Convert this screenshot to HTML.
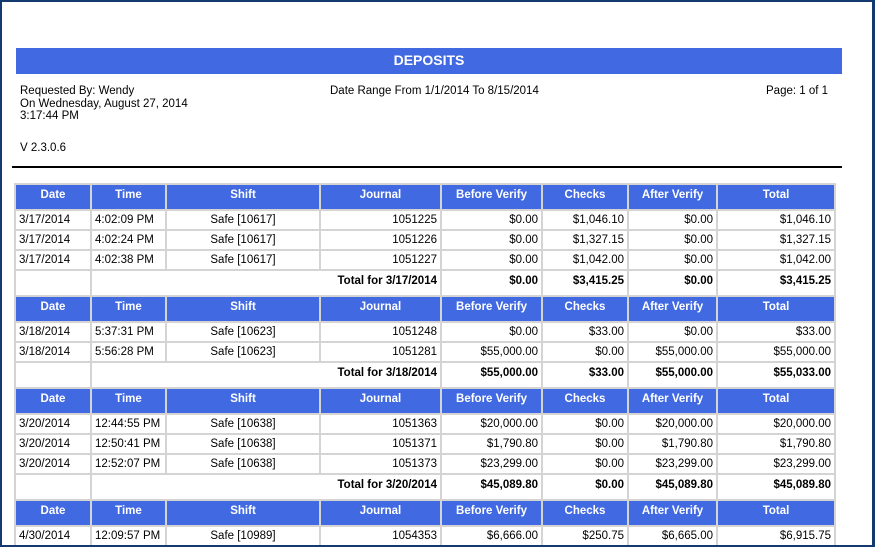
<!DOCTYPE html>
<html><head><style>
body{margin:0;width:875px;height:547px;overflow:hidden;background:#fff;font-family:"Liberation Sans",Arial,sans-serif;font-size:11.5px;color:#000;position:relative}
.frame{position:absolute;left:0;top:0;width:870px;height:543px;border-left:2px solid #14396e;border-top:2px solid #14396e;border-right:3px solid #14396e;border-bottom:2px solid #14396e;pointer-events:none;z-index:5}
.title{position:absolute;left:16px;top:48px;width:826px;height:26px;background:#4169e1;color:#fff;font-weight:bold;font-size:14px;text-align:center;line-height:25px}
.t{position:absolute;line-height:12.5px}
.rule{position:absolute;left:12px;top:166px;width:830px;height:2px;background:#000}
table{position:absolute;left:14px;top:183px;border-collapse:separate;border-spacing:2px;background:#d4d4d4;table-layout:fixed;width:822px}
td{background:#fff;padding:0 3px;height:18px;line-height:18px;white-space:nowrap;overflow:hidden;vertical-align:top;box-sizing:border-box}
tr.h td{background:#4169e1;color:#fff;font-weight:bold;text-align:center;height:24px;line-height:20px}
tr.tot td{height:24px;font-weight:bold;line-height:21px}
.r{text-align:right}.c{text-align:center}
</style></head><body>
<div class="frame"></div>
<div class="title">DEPOSITS</div>
<div class="t" style="left:20px;top:85px">Requested By: Wendy<br>On Wednesday, August 27, 2014<br>3:17:44 PM</div>
<div class="t" style="left:20px;top:142px">V 2.3.0.6</div>
<div class="t" style="left:330px;top:85px">Date Range From 1/1/2014 To 8/15/2014</div>
<div class="t" style="left:766px;top:85px">Page: 1 of 1</div>
<div class="rule"></div>
<table>
<colgroup><col style="width:74px"><col style="width:73px"><col style="width:152px"><col style="width:119px"><col style="width:99px"><col style="width:84px"><col style="width:87px"><col style="width:116px"></colgroup>
<tr class="h"><td>Date</td><td>Time</td><td>Shift</td><td>Journal</td><td>Before Verify</td><td>Checks</td><td>After Verify</td><td>Total</td></tr>
<tr><td>3/17/2014</td><td>4:02:09 PM</td><td class="c">Safe [10617]</td><td class="r">1051225</td><td class="r">$0.00</td><td class="r">$1,046.10</td><td class="r">$0.00</td><td class="r">$1,046.10</td></tr>
<tr><td>3/17/2014</td><td>4:02:24 PM</td><td class="c">Safe [10617]</td><td class="r">1051226</td><td class="r">$0.00</td><td class="r">$1,327.15</td><td class="r">$0.00</td><td class="r">$1,327.15</td></tr>
<tr><td>3/17/2014</td><td>4:02:38 PM</td><td class="c">Safe [10617]</td><td class="r">1051227</td><td class="r">$0.00</td><td class="r">$1,042.00</td><td class="r">$0.00</td><td class="r">$1,042.00</td></tr>
<tr class="tot"><td></td><td colspan="3" class="r">Total for 3/17/2014</td><td class="r">$0.00</td><td class="r">$3,415.25</td><td class="r">$0.00</td><td class="r">$3,415.25</td></tr>
<tr class="h"><td>Date</td><td>Time</td><td>Shift</td><td>Journal</td><td>Before Verify</td><td>Checks</td><td>After Verify</td><td>Total</td></tr>
<tr><td>3/18/2014</td><td>5:37:31 PM</td><td class="c">Safe [10623]</td><td class="r">1051248</td><td class="r">$0.00</td><td class="r">$33.00</td><td class="r">$0.00</td><td class="r">$33.00</td></tr>
<tr><td>3/18/2014</td><td>5:56:28 PM</td><td class="c">Safe [10623]</td><td class="r">1051281</td><td class="r">$55,000.00</td><td class="r">$0.00</td><td class="r">$55,000.00</td><td class="r">$55,000.00</td></tr>
<tr class="tot"><td></td><td colspan="3" class="r">Total for 3/18/2014</td><td class="r">$55,000.00</td><td class="r">$33.00</td><td class="r">$55,000.00</td><td class="r">$55,033.00</td></tr>
<tr class="h"><td>Date</td><td>Time</td><td>Shift</td><td>Journal</td><td>Before Verify</td><td>Checks</td><td>After Verify</td><td>Total</td></tr>
<tr><td>3/20/2014</td><td>12:44:55 PM</td><td class="c">Safe [10638]</td><td class="r">1051363</td><td class="r">$20,000.00</td><td class="r">$0.00</td><td class="r">$20,000.00</td><td class="r">$20,000.00</td></tr>
<tr><td>3/20/2014</td><td>12:50:41 PM</td><td class="c">Safe [10638]</td><td class="r">1051371</td><td class="r">$1,790.80</td><td class="r">$0.00</td><td class="r">$1,790.80</td><td class="r">$1,790.80</td></tr>
<tr><td>3/20/2014</td><td>12:52:07 PM</td><td class="c">Safe [10638]</td><td class="r">1051373</td><td class="r">$23,299.00</td><td class="r">$0.00</td><td class="r">$23,299.00</td><td class="r">$23,299.00</td></tr>
<tr class="tot"><td></td><td colspan="3" class="r">Total for 3/20/2014</td><td class="r">$45,089.80</td><td class="r">$0.00</td><td class="r">$45,089.80</td><td class="r">$45,089.80</td></tr>
<tr class="h"><td>Date</td><td>Time</td><td>Shift</td><td>Journal</td><td>Before Verify</td><td>Checks</td><td>After Verify</td><td>Total</td></tr>
<tr><td>4/30/2014</td><td>12:09:57 PM</td><td class="c">Safe [10989]</td><td class="r">1054353</td><td class="r">$6,666.00</td><td class="r">$250.75</td><td class="r">$6,665.00</td><td class="r">$6,915.75</td></tr>
</table>
</body></html>
